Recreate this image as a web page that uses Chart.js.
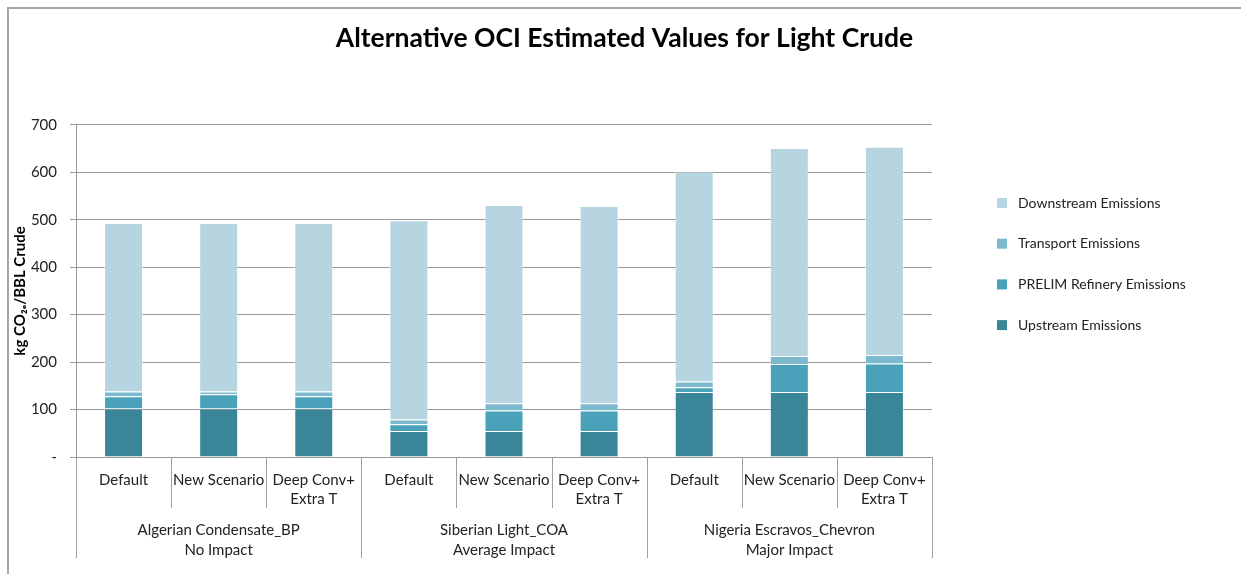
<!DOCTYPE html>
<html>
<head>
<meta charset="utf-8">
<script src="https://cdn.jsdelivr.net/npm/chart.js@4.4.0/dist/chart.umd.min.js"></script>
<style>
  body { margin: 0; background: #fff; }
  #wrap { position: relative; width: 1241px; height: 574px; }
</style>
</head>
<body>
<div id="wrap"><canvas id="ociChart"></canvas></div>
<script>
// categories (scenario per crude) and crude groups
const scenarios = ['Default', 'New Scenario', ['Deep Conv+', 'Extra T'],
                   'Default', 'New Scenario', ['Deep Conv+', 'Extra T'],
                   'Default', 'New Scenario', ['Deep Conv+', 'Extra T']];
const crudeGroups = [['Algerian Condensate_BP', 'No Impact'],
                     ['Siberian Light_COA', 'Average Impact'],
                     ['Nigeria Escravos_Chevron', 'Major Impact']];

// kg CO2e / BBL crude
const upstream   = [102, 102, 102, 55, 55, 55, 137, 137, 137];
const refinery   = [26, 30, 26, 14, 43, 43, 10, 59, 60];
const transport  = [10, 6, 10, 10, 15, 15, 12, 17, 18];
const downstream = [355, 355, 355, 420, 418, 416, 442, 438, 439];

const yTicks = [0, 100, 200, 300, 400, 500, 600, 700];

const FONT = 'Lato, "Open Sans", sans-serif';

function makeSet(label, data, color) {
  return {
    label: label,
    data: data,
    backgroundColor: color,
    borderColor: 'rgba(255,255,255,0.35)',
    borderWidth: 1,
    categoryPercentage: 1,
    barPercentage: 0.41
  };
}

// group labels, separators, legend and frame
const excelBits = {
  id: 'excelBits',
  beforeDraw(chart) {
    const ctx = chart.ctx;
    ctx.save();
    ctx.strokeStyle = '#a6a6a6';
    ctx.lineWidth = 2;
    ctx.beginPath();
    ctx.moveTo(8, 574);
    ctx.lineTo(8, 8);
    ctx.lineTo(1241, 8);
    ctx.stroke();
    ctx.restore();
  },
  afterDraw(chart) {
    const ctx = chart.ctx;
    const x = chart.scales.x;
    const area = chart.chartArea;
    const catW = x.getPixelForValue(1) - x.getPixelForValue(0);
    ctx.save();

    // separators under the axis
    ctx.strokeStyle = '#a0a0a0';
    ctx.lineWidth = 1;
    for (let i = 0; i <= scenarios.length; i++) {
      const px = Math.round(x.getPixelForValue(i) - catW / 2) + 0.5;
      const len = (i % 3 === 0) ? 101 : 51;
      ctx.beginPath();
      ctx.moveTo(px, area.bottom);
      ctx.lineTo(px, area.bottom + len);
      ctx.stroke();
    }

    // crude group labels
    ctx.fillStyle = '#222';
    ctx.font = '15px ' + FONT;
    ctx.textAlign = 'center';
    ctx.textBaseline = 'middle';
    crudeGroups.forEach((g, gi) => {
      const cx = (x.getPixelForValue(gi * 3) + x.getPixelForValue(gi * 3 + 2)) / 2;
      ctx.fillText(g[0], cx, area.bottom + 73);
      ctx.fillText(g[1], cx, area.bottom + 93);
    });

    // legend, reversed like the original
    ctx.textAlign = 'left';
    ctx.font = '14px ' + FONT;
    const sets = chart.data.datasets.slice().reverse();
    sets.forEach((ds, i) => {
      const cy = 203 + i * 40.7;
      ctx.fillStyle = ds.backgroundColor;
      ctx.fillRect(997, cy - 5, 10, 10);
      ctx.fillStyle = '#222';
      ctx.fillText(ds.label, 1018, cy);
    });
    ctx.restore();
  }
};

new Chart(document.getElementById('ociChart'), {
  type: 'bar',
  data: {
    labels: scenarios,
    datasets: [
      makeSet('Upstream Emissions', upstream, '#3a8698'),
      makeSet('PRELIM Refinery Emissions', refinery, '#4aa2ba'),
      makeSet('Transport Emissions', transport, '#7cb9ce'),
      makeSet('Downstream Emissions', downstream, '#b7d5e0')
    ]
  },
  options: {
    responsive: true,
    maintainAspectRatio: false,
    animation: false,
    layout: { padding: { left: 8, right: 0, top: 0, bottom: 0 } },
    plugins: {
      legend: { display: false },
      tooltip: { enabled: false },
      title: {
        display: true,
        text: 'Alternative OCI Estimated Values for Light Crude',
        color: '#000',
        font: { family: FONT, size: 26.5, weight: 'bold' },
        padding: { top: 23, bottom: 70 }
      }
    },
    scales: {
      x: {
        stacked: true,
        grid: { display: false },
        border: { display: false },
        ticks: {
          color: '#222',
          font: { family: FONT, size: 15, lineHeight: 1.27 },
          padding: 6,
          maxRotation: 0,
          autoSkip: false
        },
        afterFit(scale) { scale.height = 117; }
      },
      y: {
        stacked: true,
        min: 0,
        max: 700,
        afterBuildTicks(scale) { scale.ticks = yTicks.map(v => ({ value: v })); },
        grid: { color: '#999', lineWidth: 1, tickLength: 6 },
        border: { color: '#999' },
        ticks: {
          color: '#222',
          font: { family: FONT, size: 15 },
          padding: 13,
          callback: v => (v === 0 ? '-' : String(v))
        },
        title: {
          display: true,
          text: 'kg CO₂ₑ/BBL Crude',
          color: '#000',
          font: { family: FONT, size: 15, weight: 'bold' },
          padding: { top: 3, bottom: 4 }
        },
        afterFit(scale) { scale.width = 68; }
      },
      // empty right-hand strip that keeps room for the legend
      legendRoom: {
        position: 'right',
        display: true,
        grid: { display: false },
        border: { display: false },
        ticks: { display: false },
        afterFit(scale) { scale.width = 309; }
      }
    }
  },
  plugins: [excelBits]
});
</script>
</body>
</html>
